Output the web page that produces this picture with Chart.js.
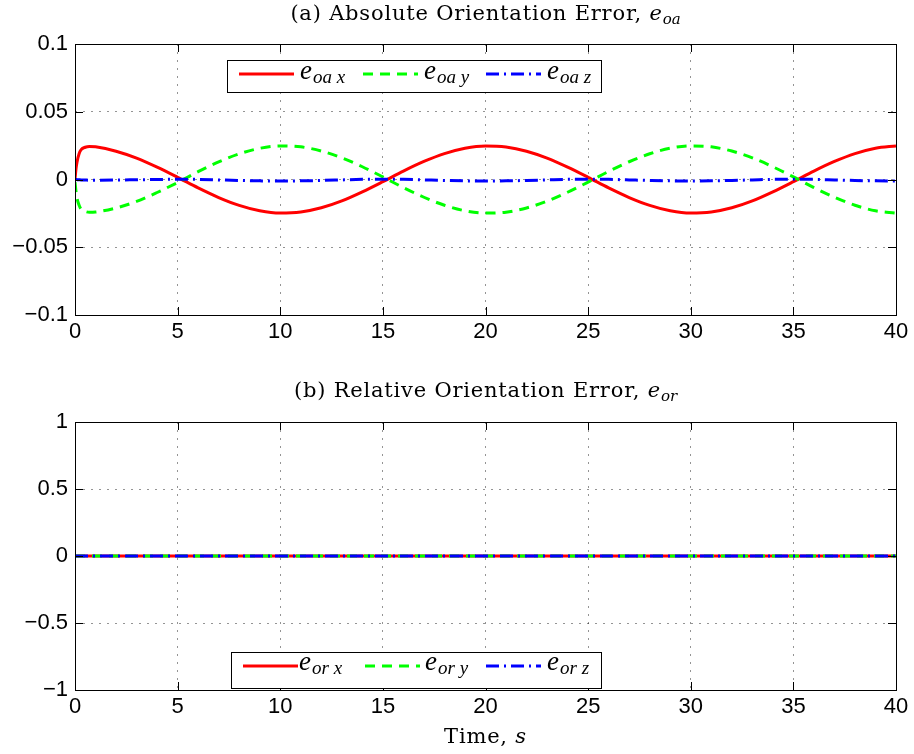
<!DOCTYPE html>
<html><head><meta charset="utf-8">
<script src="https://cdn.jsdelivr.net/npm/chart.js@4/dist/chart.umd.min.js"></script>
<style>
body{margin:0;background:#fff;width:914px;height:754px;position:relative;overflow:hidden}
canvas{position:absolute;left:0;top:0}
.ttl{position:absolute;left:75px;width:821px;text-align:center;font-family:"DejaVu Serif",serif;font-size:21px;letter-spacing:0.8px;line-height:26px;color:#000;white-space:nowrap}
.ttl i{font-style:italic}
.ttl sub{font-size:15px;font-style:italic;vertical-align:-4px;line-height:0;letter-spacing:0}
</style></head><body>
<div id="w1" style="position:absolute;left:0;top:0;width:914px;height:360px"><canvas id="c1" width="914" height="360"></canvas></div>
<div id="w2" style="position:absolute;left:0;top:360px;width:914px;height:394px"><canvas id="c2" width="914" height="394"></canvas></div>
<div class="ttl" style="top:0px">(a) Absolute Orientation Error, <i>e</i><sub>oa</sub></div>
<div class="ttl" style="top:377px">(b) Relative Orientation Error, <i>e</i><sub>or</sub></div>
<div class="ttl" style="top:723px">Time, <i>s</i></div>
<script>
// ---- data ----
const timesA = [0,0.05,0.1,0.2,0.3,0.5,0.7,1,2,3,4,5,6,7,8,9,10,11,12,13,14,15,16,17,18,19,20,21,22,23,24,25,26,27,28,29,30,31,32,33,34,35,36,37,38,39,40];
const eoaX = [0,0.008,0.013,0.019,0.022,0.0238,0.0244,
  0.0241,0.0209,0.0158,0.0091,0.0016,-0.0062,-0.0133,-0.0191,-0.0231,-0.0248,
  -0.0240,-0.0209,-0.0158,-0.0091,-0.0016,0.0062,0.0133,0.0191,0.0231,0.0248,
  0.0240,0.0209,0.0158,0.0091,0.0016,-0.0062,-0.0133,-0.0191,-0.0231,-0.0248,
  -0.0240,-0.0209,-0.0158,-0.0091,-0.0016,0.0062,0.0133,0.0191,0.0231,0.0248];
const eoaY = [-0.002,-0.009,-0.014,-0.019,-0.022,-0.0236,-0.0242,
  -0.0240,-0.0210,-0.0162,-0.0096,-0.0022,0.0058,0.0130,0.0189,0.0230,0.0248,
  0.0241,0.0210,0.0160,0.0094,0.0019,-0.0060,-0.0131,-0.0190,-0.0231,-0.0248,
  -0.0241,-0.0210,-0.0160,-0.0094,-0.0019,0.0060,0.0131,0.0190,0.0231,0.0248,
  0.0241,0.0210,0.0160,0.0094,0.0019,-0.0060,-0.0131,-0.0190,-0.0231,-0.0248];
const eoaZ = [0,0,-0.0001,-0.0002,-0.0003,-0.0004,-0.0005,
  -0.0005,-0.0004,-0.0002,0,0.0002,0.0001,-0.0003,-0.0007,-0.0010,-0.0011,
  -0.0010,-0.0007,-0.0003,0.0001,0.0002,0.0001,-0.0003,-0.0007,-0.0010,-0.0011,
  -0.0010,-0.0007,-0.0003,0.0001,0.0002,0.0001,-0.0003,-0.0007,-0.0010,-0.0011,
  -0.0010,-0.0007,-0.0003,0.0001,0.0002,0.0001,-0.0003,-0.0007,-0.0010,-0.0011];
const timesB = [0,5,10,15,20,25,30,35,40];
const eorX = [0,0,0,0,0,0,0,0,0];
const eorY = [0,0,0,0,0,0,0,0,0];
const eorZ = [0,0,0,0,0,0,0,0,0];
const xTickVals = [0,5,10,15,20,25,30,35,40];
const xTickLabels = ['0','5','10','15','20','25','30','35','40'];
const yTickValsA = [-0.1,-0.05,0,0.05,0.1];
const yTickLabelsA = ['\u22120.1','\u22120.05','0','0.05','0.1'];
const yTickValsB = [-1,-0.5,0,0.5,1];
const yTickLabelsB = ['\u22121','\u22120.5','0','0.5','1'];
const legendSubsA = ['oa x','oa y','oa z'];
const legendSubsB = ['or x','or y','or z'];

// ---- styles ----
const styles = [
  {borderColor:'#ff0000', borderWidth:3, borderDash:[], order:3},
  {borderColor:'#00ff00', borderWidth:3, borderDash:[10,7], order:2},
  {borderColor:'#0000ff', borderWidth:3, borderDash:[13,5,2,5], order:1}
];
function ds(times, vals, i, label){
  return Object.assign({label, data: times.map((t,k)=>({x:t,y:vals[k]})), pointRadius:0,
    fill:false, cubicInterpolationMode:'monotone', tension:0.4}, styles[i]);
}

const frame = {
  id:'frame',
  afterDatasetsDraw(chart){
    const {ctx, chartArea:a} = chart;
    const xs = chart.scales.x, ys = chart.scales.y;
    ctx.save();
    ctx.strokeStyle='#000'; ctx.lineWidth=1; ctx.setLineDash([]);
    ctx.beginPath();
    const L=8;
    xs.ticks.forEach(t=>{
      const p=Math.round(xs.getPixelForValue(t.value))+0.5;
      ctx.moveTo(p,a.bottom); ctx.lineTo(p,a.bottom-L);
      ctx.moveTo(p,a.top); ctx.lineTo(p,a.top+L);
    });
    ys.ticks.forEach(t=>{
      const p=Math.round(ys.getPixelForValue(t.value))+0.5;
      ctx.moveTo(a.left,p); ctx.lineTo(a.left+L,p);
      ctx.moveTo(a.right,p); ctx.lineTo(a.right-L,p);
    });
    ctx.stroke();
    ctx.strokeRect(Math.round(a.left)+0.5, Math.round(a.top)+0.5, Math.round(a.right-a.left), Math.round(a.bottom-a.top));
    ctx.restore();
  },
  afterDraw(chart, args, opts){
    const Lg = opts.legend; if(!Lg) return;
    const ctx = chart.ctx;
    ctx.save();
    ctx.fillStyle='#fff'; ctx.fillRect(Lg.x1,Lg.y1,Lg.x2-Lg.x1,Lg.y2-Lg.y1);
    ctx.strokeStyle='#000'; ctx.lineWidth=1; ctx.strokeRect(Lg.x1+0.5,Lg.y1+0.5,Lg.x2-Lg.x1,Lg.y2-Lg.y1);
    chart.data.datasets.forEach((d,i)=>{
      const x0=Lg.lineX[i];
      ctx.beginPath(); ctx.setLineDash(d.borderDash||[]);
      ctx.strokeStyle=d.borderColor; ctx.lineWidth=d.borderWidth;
      ctx.moveTo(x0,Lg.yLine); ctx.lineTo(x0+Lg.lineW,Lg.yLine); ctx.stroke();
      ctx.setLineDash([]);
      let tx=Lg.textX[i];
      ctx.fillStyle='#000'; ctx.textAlign='left'; ctx.textBaseline='alphabetic';
      ctx.font='italic 27px "Liberation Serif"';
      ctx.fillText('e',tx,Lg.yBase);
      tx+=ctx.measureText('e').width+1;
      ctx.font='italic 19px "Liberation Serif"';
      ctx.fillText(Lg.subs[i],tx,Lg.yBase+4);
    });
    ctx.restore();
  }
};

function makeChart(id, times, series, yMin, yMax, yVals, yLabels, pad, xH, legend, subs){
  const tickFont = {family:'"Liberation Sans", Arial, sans-serif', size:22};
  return new Chart(document.getElementById(id), {
    type:'line',
    data:{datasets: series.map((s,i)=>ds(times,s,i,subs[i]))},
    options:{
      responsive:false, animation:false, events:[],
      layout:{padding:{left:0,right:18,top:pad,bottom:0}},
      plugins:{legend:{display:false}, tooltip:{enabled:false}, title:{display:false},
        frame:{legend: Object.assign({subs}, legend)}},
      scales:{
        x:{type:'linear', min:0, max:40,
          afterBuildTicks(s){ s.ticks = xTickVals.map(v=>({value:v})); },
          afterFit(s){ s.height = xH; },
          ticks:{font:tickFont, color:'#000', padding:4, maxRotation:0, autoSkip:false,
            callback:(v,i)=>xTickLabels[i]},
          grid:{color:'rgba(0,0,0,0.42)', lineWidth:1, drawTicks:false},
          border:{display:false, dash:[2,6]}
        },
        y:{type:'linear', min:yMin, max:yMax,
          afterBuildTicks(s){ s.ticks = yVals.map(v=>({value:v})); },
          afterFit(s){ s.width = 75; },
          ticks:{font:tickFont, color:'#000', padding:7, autoSkip:false,
            callback:(v,i)=>yLabels[i]},
          grid:{color:'rgba(0,0,0,0.42)', lineWidth:1, drawTicks:false},
          border:{display:false, dash:[2,6]}
        }
      }
    },
    plugins:[frame]
  });
}

makeChart('c1', timesA, [eoaX,eoaY,eoaZ], -0.1, 0.1, yTickValsA, yTickLabelsA, 44, 45,
  {x1:227,y1:60,x2:601,y2:92,yLine:74,lineX:[239,363,486],lineW:55,textX:[300,424,547],yBase:79}, legendSubsA);
makeChart('c2', timesB, [eorX,eorY,eorZ], -1, 1, yTickValsB, yTickLabelsB, 62, 64,
  {x1:231,y1:292,x2:601,y2:328,yLine:306,lineX:[243,365,486],lineW:55,textX:[299,425,547],yBase:310}, legendSubsB);
</script>
</body></html>
